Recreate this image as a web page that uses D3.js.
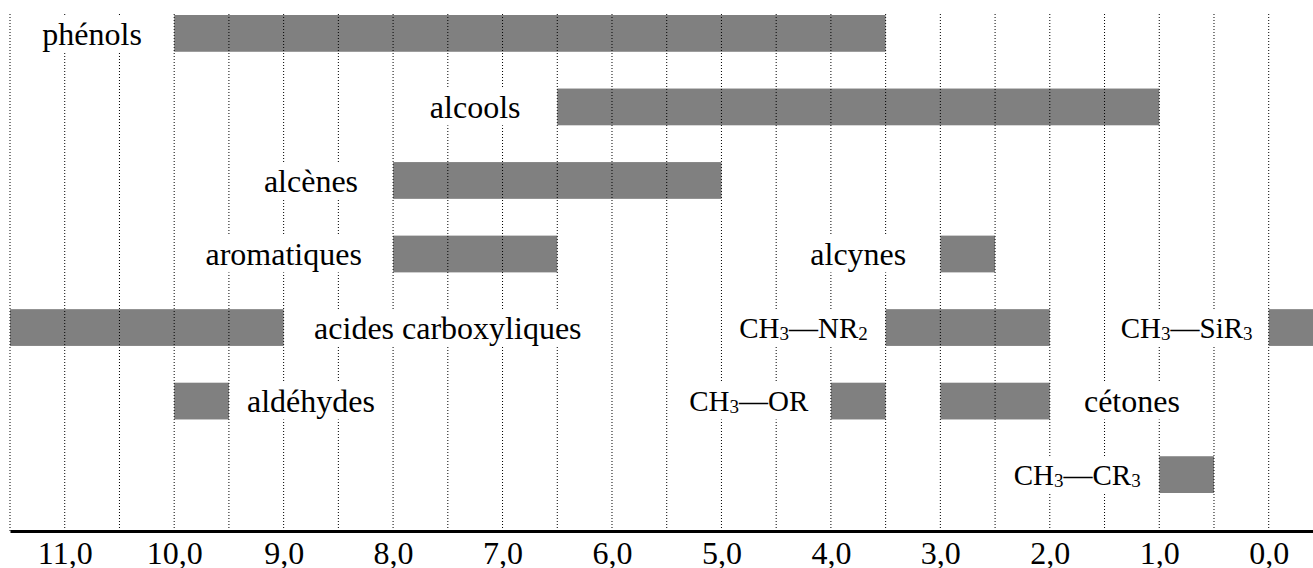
<!DOCTYPE html>
<html>
<head>
<meta charset="utf-8">
<script src="https://cdn.jsdelivr.net/npm/d3@7"></script>
<style>
  body { margin: 0; background: #fff; }
  svg { display: block; font-family: "Liberation Serif", "Times New Roman", serif; }
  .grid line { stroke: #000; stroke-width: 1; stroke-dasharray: 1,2; }
  .label { font-size: 32px; fill: #000; }
  .label.formula { font-size: 29px; }
  .axis text { font-size: 32px; font-family: "Liberation Serif", serif; fill: #000; }
</style>
</head>
<body>
<svg id="chart" width="1313" height="568"></svg>
<script>
const width = 1313, height = 568

// rows, top to bottom
const rows = [0, 1, 2, 3, 4, 5, 6]

// groups: name, row, bar from (ppm), bar to (ppm), label centre (ppm)
const groupNames = ["phénols", "alcools", "alcènes", "aromatiques", "alcynes",
    "acides carboxyliques", "CH₃—NR₂", "CH₃—SiR₃",
    "aldéhydes", "CH₃—OR", "cétones", "CH₃—CR₃"]
const groupRows = [0, 1, 2, 3, 3, 4, 4, 4, 5, 5, 5, 6]
const barFrom = [10.0, 6.5, 8.0, 8.0, 3.0, 11.5, 3.5, 0.0, 10.0, 4.0, 3.0, 1.0]
const barTo = [3.5, 1.0, 5.0, 6.5, 2.5, 9.0, 2.0, -0.5, 9.5, 3.5, 2.0, 0.5]
const labelAt = [10.75, 7.25, 8.75, 9.0, 3.75, 7.5, 4.25, 0.75, 8.75, 4.75, 1.25, 1.75]

const tickValues = [11, 10, 9, 8, 7, 6, 5, 4, 3, 2, 1, 0]

const svg = d3.select("#chart")

const x = d3.scaleLinear()
    .domain([11.5, -0.4])
    .range([10, 1312.5])

const y = d3.scaleBand()
    .domain(rows)
    .range([15, 15 + 6 * 73.5 + 37])
    .paddingInner(0.5)

const axisY = 531
const subDigits = "₀₁₂₃₄₅₆₇₈₉"

var groups = groupNames.map(function (name, i) {
    return { name: name, row: groupRows[i], from: barFrom[i], to: barTo[i], label: labelAt[i] }
})

// bars
svg.append("g")
    .selectAll("rect")
    .data(groups)
    .enter().append("rect")
    .attr("x", d => x(d.from))
    .attr("y", d => y(d.row))
    .attr("width", d => x(d.to) - x(d.from))
    .attr("height", y.bandwidth())
    .attr("fill", "#808080")

// dotted vertical grid every 0.5 ppm
svg.append("g")
    .attr("class", "grid")
    .selectAll("line")
    .data(d3.range(0, 11.51, 0.5))
    .enter().append("line")
    .attr("x1", d => x(d))
    .attr("x2", d => x(d))
    .attr("y1", 14)
    .attr("y2", axisY)

// labels on white boxes
var labels = svg.append("g")
    .selectAll("g")
    .data(groups)
    .enter().append("g")

labels.append("text")
    .attr("class", d => /[₀-₉]/.test(d.name) ? "label formula" : "label")
    .attr("x", d => x(d.label))
    .attr("y", d => y(d.row) + y.bandwidth() / 2)
    .attr("dy", "0.35em")
    .attr("text-anchor", "middle")
    .each(function (d) {
        // subscript digits drawn as small lowered digits
        var t = d3.select(this)
        d.name.split(/([₀-₉]+)/).forEach(function (part) {
            if (part === "") return
            if (/[₀-₉]/.test(part)) {
                t.append("tspan")
                    .attr("font-size", "19px")
                    .attr("baseline-shift", "-2")
                    .text(part.split("").map(c => subDigits.indexOf(c)).join(""))
            } else {
                t.append("tspan").text(part)
            }
        })
    })

labels.each(function (d) {
    var g = d3.select(this)
    var w = g.select("text").node().getComputedTextLength()
    g.insert("rect", "text")
        .attr("x", x(d.label) - w / 2 - 4)
        .attr("y", y(d.row))
        .attr("width", w + 8)
        .attr("height", y.bandwidth())
        .attr("fill", "#fff")
})

// bottom axis
var xAxis = d3.axisBottom(x)
    .tickValues(tickValues)
    .tickSize(0)
    .tickFormat(d => d3.format(".1f")(d).replace(".", ","))

svg.append("g")
    .attr("class", "axis")
    .attr("transform", "translate(0," + axisY + ")")
    .call(xAxis)
    .call(g => g.select(".domain").attr("stroke", "#000").attr("stroke-width", 3))
    .call(g => g.selectAll("text").attr("dy", null).attr("y", 33))
</script>
</body>
</html>
